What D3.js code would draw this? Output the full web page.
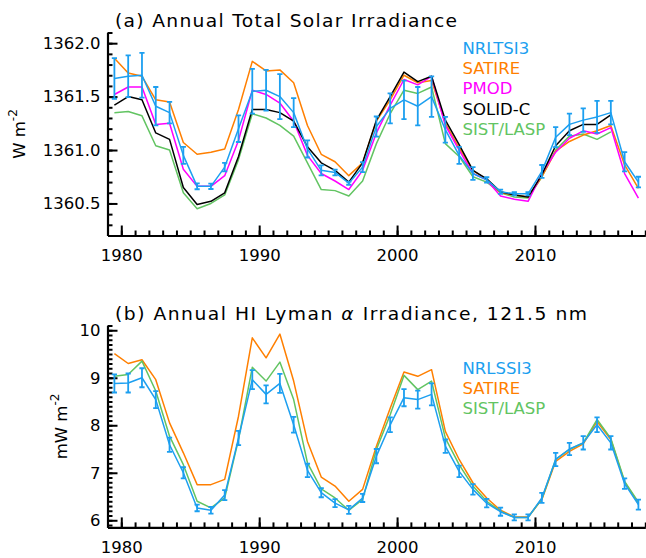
<!DOCTYPE html>
<html>
<head>
<meta charset="utf-8">
<script src="https://cdn.jsdelivr.net/npm/d3@7"></script>
<style>
  body { margin: 0; background: #fff; }
  svg { display: block; font-family: "DejaVu Sans", sans-serif; }
</style>
</head>
<body>
<svg id="chart" width="646" height="558"></svg>
<script>
// Annual means, one value per year starting 1979, plotted at mid-year.
const startYear = 1979;

// (a) Total solar irradiance, W m-2
const tsiNRLTSI3 = [1361.67,1361.69,1361.70,1361.41,1361.35,1360.95,1360.66,1360.66,1360.84,1361.20,
  1361.55,1361.56,1361.50,1361.35,1361.01,1360.81,1360.79,1360.69,1360.84,1361.22,
  1361.39,1361.47,1361.41,1361.50,1361.19,1360.95,1360.78,1360.72,1360.61,1360.59,
  1360.59,1360.80,1361.12,1361.24,1361.28,1361.31,1361.35,1360.89,1360.70];
const tsiNRLTSI3Err = [0.19,0.195,0.21,0.18,0.10,0.08,0.027,0.025,0.04,0.125,
  0.21,0.19,0.21,0.135,0.08,0.047,0.027,0.015,0.047,0.094,
  0.14,0.18,0.18,0.19,0.12,0.08,0.06,0.025,0.02,0.015,
  0.015,0.06,0.094,0.10,0.11,0.15,0.11,0.09,0.05];
const tsiSATIRE = [1361.86,1361.72,1361.69,1361.47,1361.45,1361.07,1360.96,1360.98,1361.01,1361.38,
  1361.83,1361.74,1361.75,1361.63,1361.23,1360.96,1360.89,1360.76,1360.88,1361.27,
  1361.47,1361.70,1361.63,1361.65,1361.25,1361.02,1360.81,1360.72,1360.60,1360.58,
  1360.56,1360.75,1360.99,1361.08,1361.14,1361.18,1361.23,1360.86,1360.64];
const tsiPMOD = [1361.52,1361.59,1361.59,1361.24,1361.25,1360.82,1360.66,1360.66,1360.76,1361.09,
  1361.56,1361.52,1361.44,1361.27,1360.95,1360.78,1360.71,1360.63,1360.81,1361.16,
  1361.42,1361.66,1361.61,1361.69,1361.23,1361.00,1360.78,1360.72,1360.57,1360.54,
  1360.52,1360.78,1360.98,1361.11,1361.18,1361.15,1361.21,1360.78,1360.55];
const tsiSOLIDC = [1361.42,1361.50,1361.47,1361.16,1361.10,1360.65,1360.49,1360.52,1360.60,1360.94,
  1361.38,1361.38,1361.35,1361.27,1361.03,1360.88,1360.81,1360.70,1360.88,1361.28,
  1361.50,1361.73,1361.64,1361.69,1361.28,1361.05,1360.81,1360.73,1360.61,1360.58,
  1360.56,1360.77,1361.04,1361.18,1361.24,1361.24,1361.33];
const tsiSIST = [1361.35,1361.36,1361.32,1361.04,1361.00,1360.60,1360.45,1360.50,1360.58,1360.91,
  1361.34,1361.30,1361.23,1361.13,1360.88,1360.63,1360.62,1360.57,1360.71,1361.06,
  1361.34,1361.56,1361.53,1361.59,1361.06,1360.94,1360.75,1360.70,1360.60,1360.56,
  1360.55,1360.75,1361.00,1361.13,1361.15,1361.10,1361.17];

// (b) HI Lyman alpha irradiance, mW m-2
const lyaNRLSSI3 = [8.88,8.89,9.00,8.54,7.59,7.00,6.26,6.21,6.53,7.73,
  8.96,8.65,8.88,8.01,7.05,6.58,6.36,6.22,6.47,7.35,
  8.01,8.58,8.54,8.65,7.56,7.03,6.65,6.36,6.18,6.06,
  6.06,6.47,7.28,7.50,7.63,8.01,7.63,6.77,6.33];
const lyaNRLSSI3Err = [0.19,0.20,0.20,0.18,0.15,0.12,0.07,0.07,0.105,0.15,
  0.20,0.19,0.20,0.165,0.14,0.095,0.085,0.085,0.085,0.15,
  0.155,0.18,0.19,0.23,0.14,0.12,0.11,0.09,0.085,0.063,
  0.063,0.105,0.14,0.13,0.14,0.155,0.14,0.11,0.105];
const lyaSATIRE = [9.51,9.30,9.38,8.96,8.05,7.42,6.75,6.75,6.86,8.19,
  9.84,9.42,9.92,8.93,7.66,6.91,6.72,6.40,6.65,7.56,
  8.36,9.12,9.03,9.17,7.87,7.28,6.79,6.47,6.21,6.07,
  6.07,6.44,7.24,7.45,7.61,8.08,7.70,6.80,6.36];
const lyaSIST = [9.03,9.07,9.35,8.72,7.77,7.17,6.40,6.26,6.47,7.70,
  9.22,8.93,9.33,8.54,7.21,6.66,6.47,6.21,6.44,7.49,
  8.22,9.05,8.75,8.93,7.73,7.17,6.72,6.40,6.19,6.06,
  6.06,6.45,7.28,7.49,7.63,8.12,7.72,6.82,6.38];

// Axis ticks
const xMajorTicks = [1980, 1990, 2000, 2010];
const tsiMajorTicks = [1360.5, 1361.0, 1361.5, 1362.0];
const lyaMajorTicks = [6, 7, 8, 9, 10];

const colors = {
  blue: "#1c9ff0",
  orange: "#ff7f00",
  magenta: "#ff00ff",
  black: "#000000",
  green: "#62c462"
};

const svg = d3.select("#chart");
const FONT = 16.5;
const TITLE_STRETCH = 1.1;

const x = d3.scaleLinear().domain([1979, 2018]).range([107.5, 645.3]);

function toPoints(values, err) {
  return values.map((v, i) => ({ t: startYear + i + 0.5, v: v, e: err ? err[i] : 0 }));
}

function drawPanel(opts) {
  const y = d3.scaleLinear().domain(opts.yDomain).range(opts.yRange);
  const g = svg.append("g");
  const x0 = x.range()[0];
  const yBottom = opts.yRange[0];

  // minor x ticks, every year
  g.append("g")
    .attr("transform", `translate(0,${yBottom})`)
    .call(d3.axisBottom(x).tickValues(d3.range(1979, 2019)).tickSize(-5).tickSizeOuter(0).tickFormat(""))
    .call(a => a.select(".domain").remove())
    .call(a => a.selectAll("line").attr("stroke-width", 2));
  // major x ticks
  g.append("g")
    .attr("transform", `translate(0,${yBottom})`)
    .call(d3.axisBottom(x).tickValues(xMajorTicks).tickSize(-10).tickSizeOuter(0).tickPadding(0).tickFormat(d3.format("d")))
    .call(a => a.select(".domain").attr("stroke-width", 2.2))
    .call(a => a.selectAll("line").attr("stroke-width", 2))
    .call(a => a.selectAll("text")
      .attr("dy", null)
      .attr("y", opts.xLabelBaseline - yBottom)
      .attr("font-size", FONT).attr("font-family", "DejaVu Sans").attr("fill", "#000"));

  // minor y ticks
  g.append("g")
    .attr("transform", `translate(${x0},0)`)
    .call(d3.axisLeft(y).tickValues(opts.minorTicks).tickSize(-5).tickSizeOuter(0).tickFormat(""))
    .call(a => a.select(".domain").remove())
    .call(a => a.selectAll("line").attr("stroke-width", 2));
  // major y ticks
  g.append("g")
    .attr("transform", `translate(${x0},0)`)
    .call(d3.axisLeft(y).tickValues(opts.majorTicks).tickSize(-10).tickSizeOuter(0).tickPadding(7).tickFormat(opts.format))
    .call(a => a.select(".domain").attr("stroke-width", 2.2))
    .call(a => a.selectAll("line").attr("stroke-width", 2))
    .call(a => a.selectAll("text")
      .attr("font-size", FONT).attr("font-family", "DejaVu Sans").attr("fill", "#000"));

  const line = d3.line().x(d => x(d.t)).y(d => y(d.v));

  // plotted series
  opts.series.forEach(s => {
    g.append("path")
      .datum(toPoints(s.values))
      .attr("d", line)
      .attr("fill", "none")
      .attr("stroke", s.color)
      .attr("stroke-width", 1.5)
      .attr("stroke-linejoin", "round");
  });

  // error bars on the reference series
  const eb = opts.errorBars;
  const pts = toPoints(eb.values, eb.err);
  const ebG = g.append("g").attr("stroke", eb.color).attr("stroke-width", 1.8).attr("fill", "none");
  ebG.selectAll("path.eb")
    .data(pts)
    .join("path")
    .attr("class", "eb")
    .attr("d", d => {
      const cx = x(d.t), y1 = y(d.v + d.e), y2 = y(d.v - d.e), w = 2.6;
      return `M${cx - w},${y1}H${cx + w}M${cx},${y1}V${y2}M${cx - w},${y2}H${cx + w}`;
    });
  g.append("path")
    .datum(pts)
    .attr("d", line)
    .attr("fill", "none")
    .attr("stroke", eb.color)
    .attr("stroke-width", 1.5)
    .attr("stroke-linejoin", "round");

  // title, glyphs slightly widened
  const title = g.append("text")
    .attr("transform", `translate(115,${opts.titleBaseline}) scale(${TITLE_STRETCH},1)`)
    .attr("font-size", 17)
    .attr("textLength", opts.titleLength / TITLE_STRETCH)
    .attr("lengthAdjust", "spacing");
  opts.titleParts.forEach(p => {
    title.append("tspan").text(p.text).attr("font-style", p.italic ? "italic" : null);
  });

  // y-axis label with superscript
  const cy = (opts.yRange[0] + opts.yRange[1]) / 2;
  const lab = g.append("text")
    .attr("transform", `translate(${opts.yLabelX},${cy}) rotate(-90)`)
    .attr("text-anchor", "middle")
    .attr("font-size", FONT);
  lab.append("tspan").text(opts.yUnit);
  lab.append("tspan").text("-2").attr("font-size", 12).attr("dy", -8);

  // legend
  opts.legend.forEach((item, i) => {
    g.append("text")
      .attr("x", 462.5)
      .attr("y", opts.legendTop + i * opts.legendStep)
      .attr("font-size", FONT)
      .attr("fill", item.color)
      .text(item.label);
  });
}

drawPanel({
  yDomain: [1360.2, 1362.1],
  yRange: [235.5, 32.5],
  majorTicks: tsiMajorTicks,
  minorTicks: d3.range(13603, 13622).map(v => v / 10),
  format: d3.format(".1f"),
  xLabelBaseline: 261,
  titleBaseline: 27,
  titleLength: 342,
  titleParts: [{ text: "(a) Annual Total Solar Irradiance" }],
  yUnit: "W m",
  yLabelX: 25,
  series: [
    { values: tsiSIST, color: colors.green },
    { values: tsiSATIRE, color: colors.orange },
    { values: tsiPMOD, color: colors.magenta },
    { values: tsiSOLIDC, color: colors.black }
  ],
  errorBars: { values: tsiNRLTSI3, err: tsiNRLTSI3Err, color: colors.blue },
  legend: [
    { label: "NRLTSI3", color: colors.blue },
    { label: "SATIRE", color: colors.orange },
    { label: "PMOD", color: colors.magenta },
    { label: "SOLID-C", color: colors.black },
    { label: "SIST/LASP", color: colors.green }
  ],
  legendTop: 53.5,
  legendStep: 20.4
});

drawPanel({
  yDomain: [5.85, 10.1],
  yRange: [527.4, 325.5],
  majorTicks: lyaMajorTicks,
  minorTicks: d3.range(59, 102).map(v => v / 10),
  format: d3.format("d"),
  xLabelBaseline: 553,
  titleBaseline: 320,
  titleLength: 472,
  titleParts: [
    { text: "(b) Annual HI Lyman " },
    { text: "α", italic: true },
    { text: " Irradiance, 121.5 nm" }
  ],
  yUnit: "mW m",
  yLabelX: 67,
  series: [
    { values: lyaSATIRE, color: colors.orange },
    { values: lyaSIST, color: colors.green }
  ],
  errorBars: { values: lyaNRLSSI3, err: lyaNRLSSI3Err, color: colors.blue },
  legend: [
    { label: "NRLSSI3", color: colors.blue },
    { label: "SATIRE", color: colors.orange },
    { label: "SIST/LASP", color: colors.green }
  ],
  legendTop: 373.5,
  legendStep: 20.4
});
</script>
</body>
</html>
